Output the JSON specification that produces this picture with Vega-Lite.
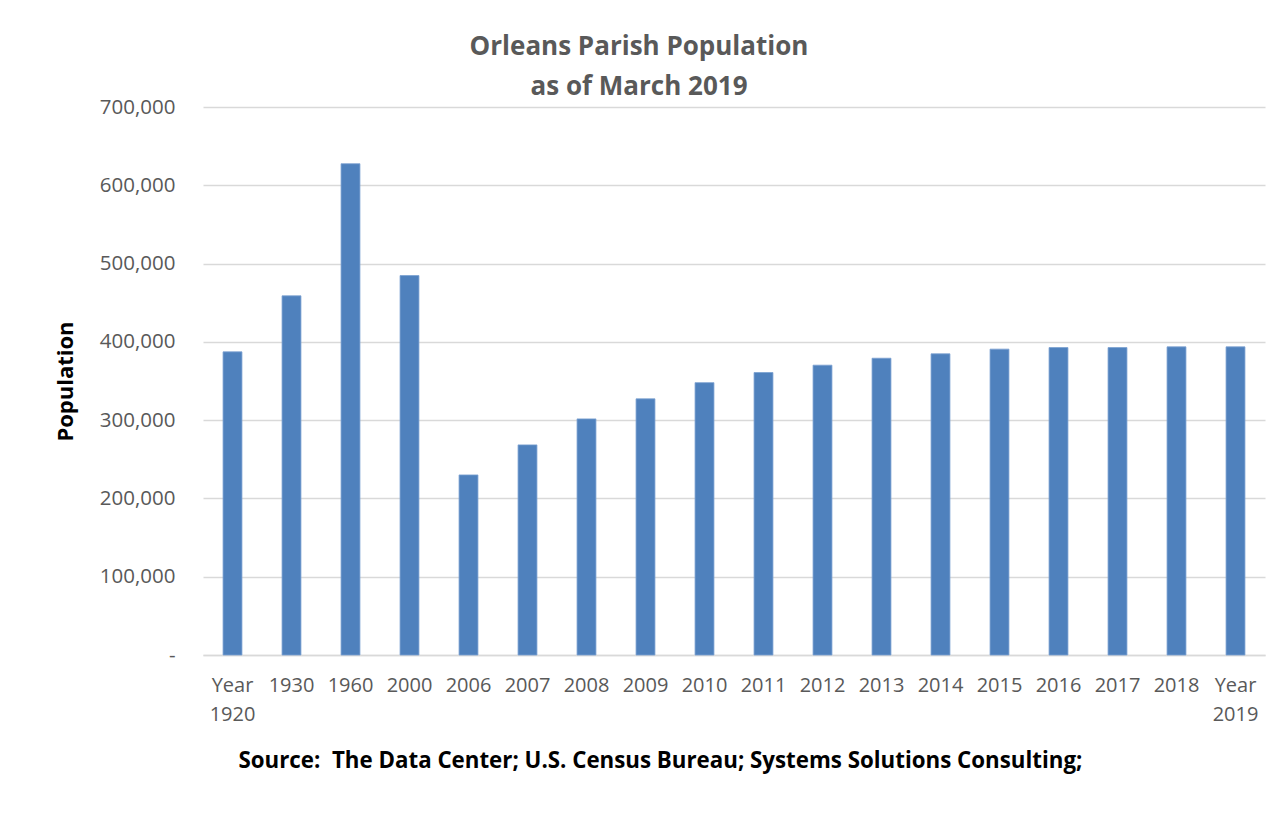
{
  "$schema": "https://vega.github.io/schema/vega-lite/v6.json",
  "autosize": "none",
  "width": 1062,
  "height": 548,
  "padding": {"left": 203, "top": 107, "right": 6, "bottom": 177},
  "background": "white",
  "title": {
    "text": ["Orleans Parish Population", "as of March 2019"],
    "font": "Open Sans",
    "fontSize": 26,
    "fontWeight": "bold",
    "color": "#595959",
    "anchor": "middle",
    "frame": "group",
    "dx": -95,
    "lineHeight": 40,
    "offset": -3
  },
  "data": {
    "values": [
      {"year": "Year 1920", "population": 387219},
      {"year": "1930", "population": 458762},
      {"year": "1960", "population": 627525},
      {"year": "2000", "population": 484674},
      {"year": "2006", "population": 230000},
      {"year": "2007", "population": 268400},
      {"year": "2008", "population": 301600},
      {"year": "2009", "population": 327200},
      {"year": "2010", "population": 347900},
      {"year": "2011", "population": 360800},
      {"year": "2012", "population": 370200},
      {"year": "2013", "population": 379100},
      {"year": "2014", "population": 384700},
      {"year": "2015", "population": 390700},
      {"year": "2016", "population": 392700},
      {"year": "2017", "population": 392700},
      {"year": "2018", "population": 393600},
      {"year": "Year 2019", "population": 393600}
    ]
  },
  "mark": {"type": "bar", "color": "#4f81bd", "stroke": "#7aa0d0", "strokeWidth": 0.8},
  "encoding": {
    "x": {
      "field": "year",
      "type": "nominal",
      "sort": null,
      "scale": {"paddingInner": 0.68, "paddingOuter": 0.34},
      "axis": {
        "title": "Source:\u00a0 The Data Center; U.S. Census Bureau; Systems Solutions Consulting;",
        "titleFont": "Open Sans",
        "titleFontSize": 22.3,
        "titleFontWeight": "bold",
        "titleColor": "#000000",
        "titleAnchor": "start",
        "titleAlign": "left",
        "titleX": 35,
        "titleY": 105,
        "titleBaseline": "middle",
        "labelAngle": 0,
        "labelFont": "Open Sans",
        "labelFontSize": 20,
        "labelColor": "#595959",
        "labelPadding": 20,
        "labelLineHeight": 29,
        "labelExpr": "split(datum.label, ' ')",
        "ticks": false,
        "domain": true,
        "domainColor": "#d9d9d9",
        "domainWidth": 1.5
      }
    },
    "y": {
      "field": "population",
      "type": "quantitative",
      "scale": {"domain": [0, 700000], "nice": false},
      "axis": {
        "title": "Population",
        "titleFont": "Open Sans",
        "titleFontSize": 22,
        "titleFontWeight": "bold",
        "titleColor": "#000000",
        "titlePadding": 22,
        "values": [0, 100000, 200000, 300000, 400000, 500000, 600000, 700000],
        "labelExpr": "datum.value == 0 ? '-' : format(datum.value, ',')",
        "labelFont": "Open Sans",
        "labelFontSize": 20.5,
        "labelColor": "#595959",
        "labelPadding": 28,
        "ticks": false,
        "domain": false,
        "grid": true,
        "gridColor": "#d9d9d9",
        "gridWidth": 1.5
      }
    }
  },
  "config": {"view": {"stroke": null}}
}
